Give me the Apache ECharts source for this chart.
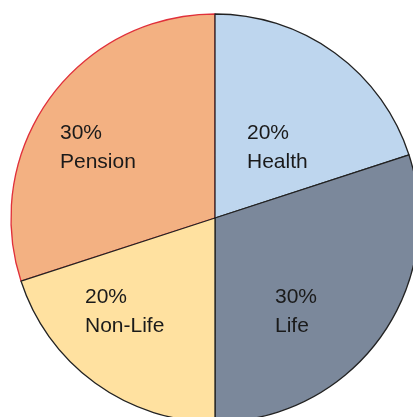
<!DOCTYPE html>
<html><head><meta charset="utf-8">
<script src="https://cdn.jsdelivr.net/npm/echarts@6/dist/echarts.min.js"></script>
<style>html,body{margin:0;padding:0;background:#fff}#c{width:413px;height:417px}</style>
</head><body><div id="c"></div>
<script>
const categories = ['Pension', 'Health', 'Life', 'Non-Life'];
const values = [30, 20, 30, 20];
const colors = ['#F3B182', '#BED6EE', '#7B889B', '#FFE1A0'];
const borders = ['#E0303A', '#222', '#222', '#222'];
const labelPos = [[60, 119], [247, 119], [275, 283], [85, 283]];

const chart = echarts.init(document.getElementById('c'), null, {renderer: 'canvas'});
chart.setOption({
  animation: false,
  series: [{
    type: 'pie',
    center: [215, 218],
    radius: [0, 204],
    startAngle: 198,
    clockwise: true,
    data: categories.map((n, i) => ({
      name: n, value: values[i],
      itemStyle: {color: colors[i], borderColor: borders[i], borderWidth: 1.3}
    })),
    label: {
      show: true, position: 'inside',
      formatter: p => p.percent.toFixed(0) + '%\n' + p.name,
      color: '#1a1a1a', fontSize: 21, fontFamily: 'Liberation Sans',
      lineHeight: 29, align: 'left'
    },
    labelLine: {show: false},
    labelLayout: p => ({x: labelPos[p.dataIndex][0], y: labelPos[p.dataIndex][1], align: 'left', verticalAlign: 'top'})
  }]
});
</script></body></html>
